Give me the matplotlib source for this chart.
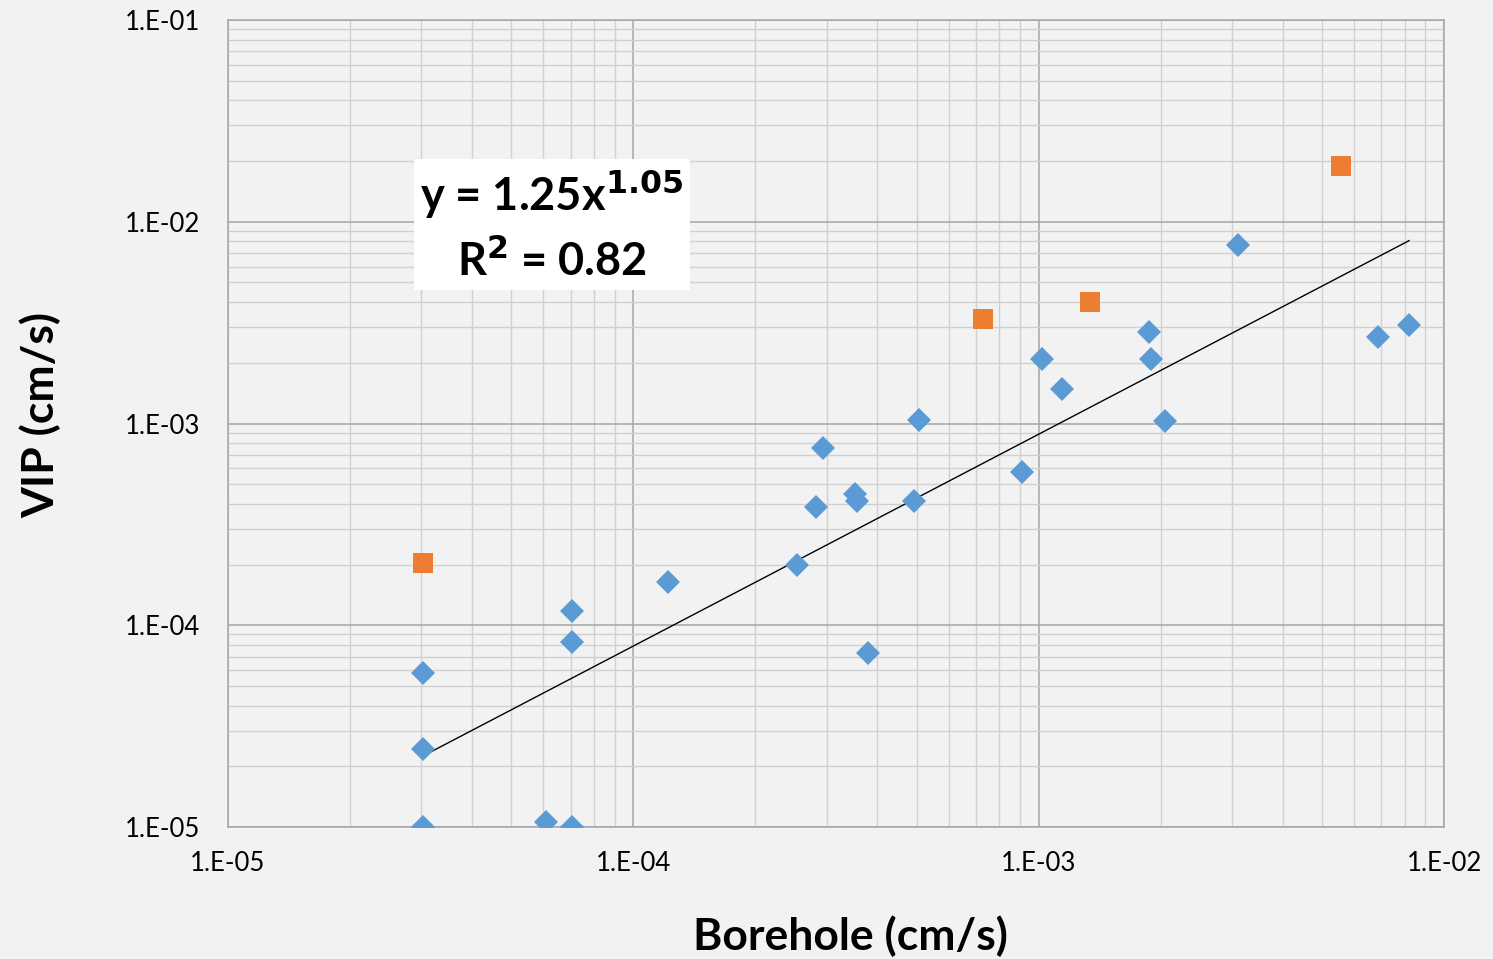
import numpy as np
import matplotlib.pyplot as plt
from matplotlib.ticker import LogLocator, FuncFormatter, NullFormatter

plt.rcParams['font.family'] = ['Lato', 'DejaVu Sans']

# blue diamonds (borehole vs VIP), cm/s
blue_x = [3.03e-5, 3.03e-5, 3.03e-5, 6.09e-5, 7.06e-5, 7.06e-5, 7.06e-5,
          1.22e-4, 2.54e-4, 2.82e-4, 2.94e-4, 3.52e-4, 3.56e-4, 3.79e-4,
          4.93e-4, 5.07e-4, 9.1e-4, 1.02e-3, 1.14e-3, 1.87e-3, 1.89e-3,
          2.05e-3, 3.10e-3, 6.87e-3, 8.2e-3]
blue_y = [1.0e-5, 2.44e-5, 5.8e-5, 1.06e-5, 1.0e-5, 8.26e-5, 1.18e-4,
          1.64e-4, 1.99e-4, 3.86e-4, 7.57e-4, 4.48e-4, 4.13e-4, 7.28e-5,
          4.13e-4, 1.04e-3, 5.75e-4, 2.09e-3, 1.48e-3, 2.84e-3, 2.09e-3,
          1.03e-3, 7.67e-3, 2.69e-3, 3.08e-3]

# orange squares
orange_x = [3.03e-5, 7.29e-4, 1.34e-3, 5.57e-3]
orange_y = [2.04e-4, 3.30e-3, 4.0e-3, 1.89e-2]

# power-law fit shown on chart
fit_a = 1.25
fit_b = 1.05

fig = plt.figure(figsize=(14.93, 9.59), dpi=100, facecolor='#f2f2f2')
ax = fig.add_axes([228 / 1493, 1 - 827 / 959, (1444 - 228) / 1493, (827 - 20) / 959])
ax.set_facecolor('#f2f2f2')
ax.set_xscale('log')
ax.set_yscale('log')
ax.set_xlim(1e-5, 1e-2)
ax.set_ylim(1e-5, 1e-1)

ax.xaxis.set_major_locator(LogLocator(base=10, numticks=10))
ax.yaxis.set_major_locator(LogLocator(base=10, numticks=10))
ax.xaxis.set_minor_locator(LogLocator(base=10, subs=np.arange(2, 10), numticks=20))
ax.yaxis.set_minor_locator(LogLocator(base=10, subs=np.arange(2, 10), numticks=20))
fmt = FuncFormatter(lambda v, p: '1.E-%02d' % round(-np.log10(v)))
ax.xaxis.set_major_formatter(fmt)
ax.yaxis.set_major_formatter(fmt)
ax.xaxis.set_minor_formatter(NullFormatter())
ax.yaxis.set_minor_formatter(NullFormatter())

ax.grid(which='major', color='#a6a6a6', linewidth=1.1)
ax.grid(which='minor', color='#d0d0d0', linewidth=1.0)
ax.set_axisbelow(True)
for s in ax.spines.values():
    s.set_color('#a6a6a6')
    s.set_linewidth(1.1)

ax.tick_params(which='both', length=0)
ax.tick_params(axis='x', pad=17, labelsize=18.5)
ax.tick_params(axis='y', pad=20, labelsize=18.5)

fx = np.logspace(np.log10(min(blue_x)), np.log10(max(blue_x)), 50)
ax.plot(fx, fit_a * fx ** fit_b, color='black', linewidth=1.0, zorder=2)

ax.plot(blue_x, blue_y, linestyle='none', marker='D', markersize=12,
        color='#5b9bd5', markeredgewidth=0, zorder=3)
ax.plot(orange_x, orange_y, linestyle='none', marker='s', markersize=15,
        color='#ed7d31', markeredgewidth=0, zorder=3)

ax.set_xlabel('Borehole (cm/s)', fontsize=32, fontweight='bold')
ax.xaxis.set_label_coords(0.512, -0.11)
ax.set_ylabel('VIP (cm/s)', fontsize=32, fontweight='bold')
ax.yaxis.set_label_coords(-0.137, 0.51)

ax.text(0.2664, 0.745, 'y = 1.25x$^{\\mathbf{1.05}}$\nR$^{\\mathbf{2}}$ = 0.82',
        transform=ax.transAxes, ha='center', va='center', fontsize=32.5,
        fontweight='bold', linespacing=1.5,
        bbox=dict(facecolor='white', edgecolor='none', pad=5), zorder=4)

fig.savefig('out.png', dpi=100, facecolor=fig.get_facecolor())
